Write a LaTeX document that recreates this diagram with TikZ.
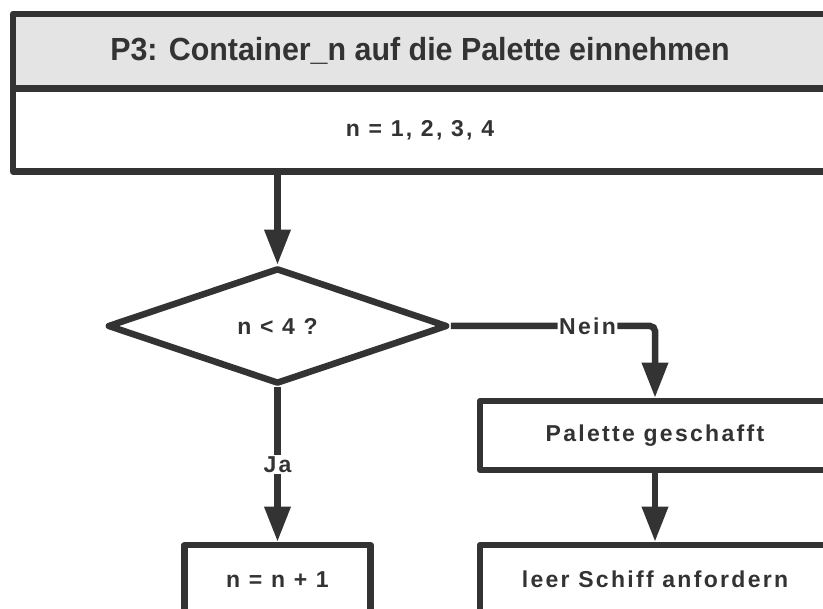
\documentclass[tikz,border=0pt]{standalone}
\usepackage{fontspec}
\setmainfont{Liberation Sans}
\newfontfamily\flowfont{Liberation Sans}[LetterSpace=10]
\newfontfamily\headfont{Liberation Sans}[FakeStretch=0.95]
\usetikzlibrary{arrows.meta,shapes.geometric}
\definecolor{ink}{HTML}{333333}
\definecolor{headfill}{HTML}{E4E4E4}

\begin{document}
\begin{tikzpicture}[x=1pt,y=-1pt,
  every node/.style={text=ink, font=\flowfont\bfseries\fontsize{23}{27}\selectfont},
  box/.style={draw=ink, line width=6.5pt, line join=round, rectangle,
    inner sep=0pt, fill=white},
  decision/.style={diamond, draw=ink, line width=6.5pt, line join=round,
    inner sep=0pt, fill=white},
  arr/.style={draw=ink, line width=6.5pt,
    -{Triangle[length=35pt,width=25pt]}},
  lbl/.style={fill=white, inner sep=1.5pt}
]
  \useasboundingbox (0,0) rectangle (823,609);
  \clip (0,0) rectangle (823,609);
  \fill[white] (0,0) rectangle (823,609);

  % header block: title and loop range
  \node[box, fill=headfill, minimum width=814pt, minimum height=74.5pt,
    font=\headfont\bfseries\fontsize{32}{36}\selectfont] (head) at (420,51.25)
    {P3: Container\_n auf die Palette einnehmen};
  \node[box, minimum width=814pt, minimum height=83pt] (range) at (420,130)
    {n = 1, 2, 3, 4};

  % decision
  \node[decision, minimum width=340pt, minimum height=116pt] (dec) at (277.5,326)
    {n < 4 ?};

  % actions
  \node[box, minimum width=350pt, minimum height=69pt] (pal) at (655,435.5)
    {Palette geschafft};
  \node[box, minimum width=350pt, minimum height=68pt] (req) at (655,579)
    {leer Schiff anfordern};
  \node[box, minimum width=186pt, minimum height=69pt] (inc) at (277.5,579.5)
    {n = n + 1};

  % connectors
  \draw[arr] (range.south -| dec.north) -- (dec.north);
  \draw[arr, rounded corners=5pt] (dec.east)
    -- node[lbl, pos=0.67] {Nein} (dec.east -| pal.north) -- (pal.north);
  \draw[arr] (dec.south) -- node[lbl] {Ja} (inc.north);
  \draw[arr] (pal.south) -- (req.north);
\end{tikzpicture}
\end{document}
